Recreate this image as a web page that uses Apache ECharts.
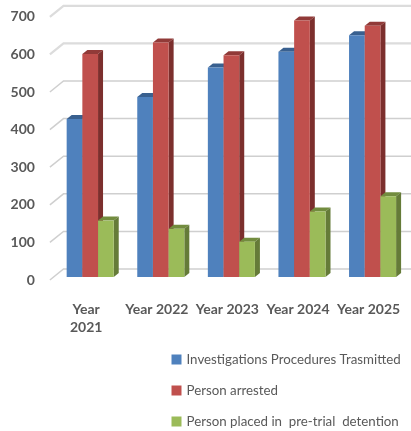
<!DOCTYPE html>
<html><head><meta charset="utf-8">
<style>html,body{margin:0;padding:0;background:#fff;overflow:hidden}#c{width:411px;height:431px;filter:blur(0.45px)}</style>
<script src="https://cdn.jsdelivr.net/npm/echarts@6/dist/echarts.min.js"></script>
</head><body><div id="c"></div>
<script>
const categories = ['Year\n2021','Year 2022','Year 2023','Year 2024','Year 2025'];
const investigations = [420,479,557,599,643];
const arrested = [593,624,590,682,668];
const detention = [150,128,94,174,215];
const yTicks = [0,100,200,300,400,500,600,700];

const chart = echarts.init(document.getElementById('c'),null,{renderer:'canvas'});
const DX=5, DY=4;
function barSeries(name,data,idx,front,top,side){
  return {
    name, type:'custom', data:data.map((v,i)=>[i,v]), encode:{x:0,y:1}, itemStyle:{color:front}, z:3+idx,
    renderItem(params,api){
      const i=api.value(0), v=api.value(1);
      const p=api.coord([i,v]), b=api.coord([i,0]);
      const band=api.size([1,0])[0], w=band/4.5;
      const x=p[0]+(idx-1.5)*w, y=p[1], base=b[1];
      return {type:'group',children:[
        {type:'polygon',shape:{points:[[x,y],[x+DX,y-DY],[x+w+DX,y-DY],[x+w,y]]},style:{fill:top}},
        {type:'polygon',shape:{points:[[x+w,y],[x+w+DX,y-DY],[x+w+DX,base-DY],[x+w,base]]},style:{fill:side}},
        {type:'rect',shape:{x,y,width:w,height:base-y},style:{fill:front}}
      ]};
    }
  };
}
chart.setOption({
  animation:false,
  backgroundColor:'#fff',
  textStyle:{fontFamily:'Lato'},
  grid:{left:54.9,right:1.6,top:13.8,bottom:154,containLabel:false},
  xAxis:{type:'category',data:categories,axisLine:{show:false},axisTick:{show:false},
    axisLabel:{interval:0,margin:23,color:'#595959',fontWeight:'bold',fontSize:14,lineHeight:18,fontFamily:'Lato',padding:[0,8,0,0],verticalAlign:'top'}},
  yAxis:{type:'value',min:0,max:700,interval:100,splitLine:{show:false},axisLine:{show:false},axisTick:{show:false},
    axisLabel:{margin:20,color:'#595959',fontWeight:'bold',fontSize:14,fontFamily:'Lato',verticalAlign:'top',lineHeight:6}},
  legend:{orient:'vertical',left:171.5,top:351,padding:0,height:90,itemWidth:10,itemHeight:10,itemGap:14,icon:'rect',
    textStyle:{color:'#595959',fontSize:13.3,fontFamily:'Lato',height:17,lineHeight:17},
    data:['Investigations Procedures Trasmitted','Person arrested','Person placed in  pre-trial  detention']},
  series:[
    {type:'custom',name:'walls',silent:true,z:1,data:yTicks.map(v=>[0,v]),encode:{x:0,y:1},
      renderItem(params,api){
        const v=api.value(1), y=api.coord([0,v])[1];
        const grid=params.coordSys;
        const lw=v>=600?2.2:1.5;
        return {type:'polyline',shape:{points:[[grid.x-5,y+3],[grid.x+8.6,y-8],[411,y-8]]},
          style:{fill:null,stroke:v>=600?'#dcdcdc':'#cfcfcf',lineWidth:lw}};
      }},
    barSeries('Investigations Procedures Trasmitted',investigations,0,'#4F81BD','#39608F','#39608F'),
    barSeries('Person arrested',arrested,1,'#C0504D','#913A38','#7C2F2D'),
    barSeries('Person placed in  pre-trial  detention',detention,2,'#9BBB59','#728C3E','#657B38')
  ]
});
</script></body></html>
